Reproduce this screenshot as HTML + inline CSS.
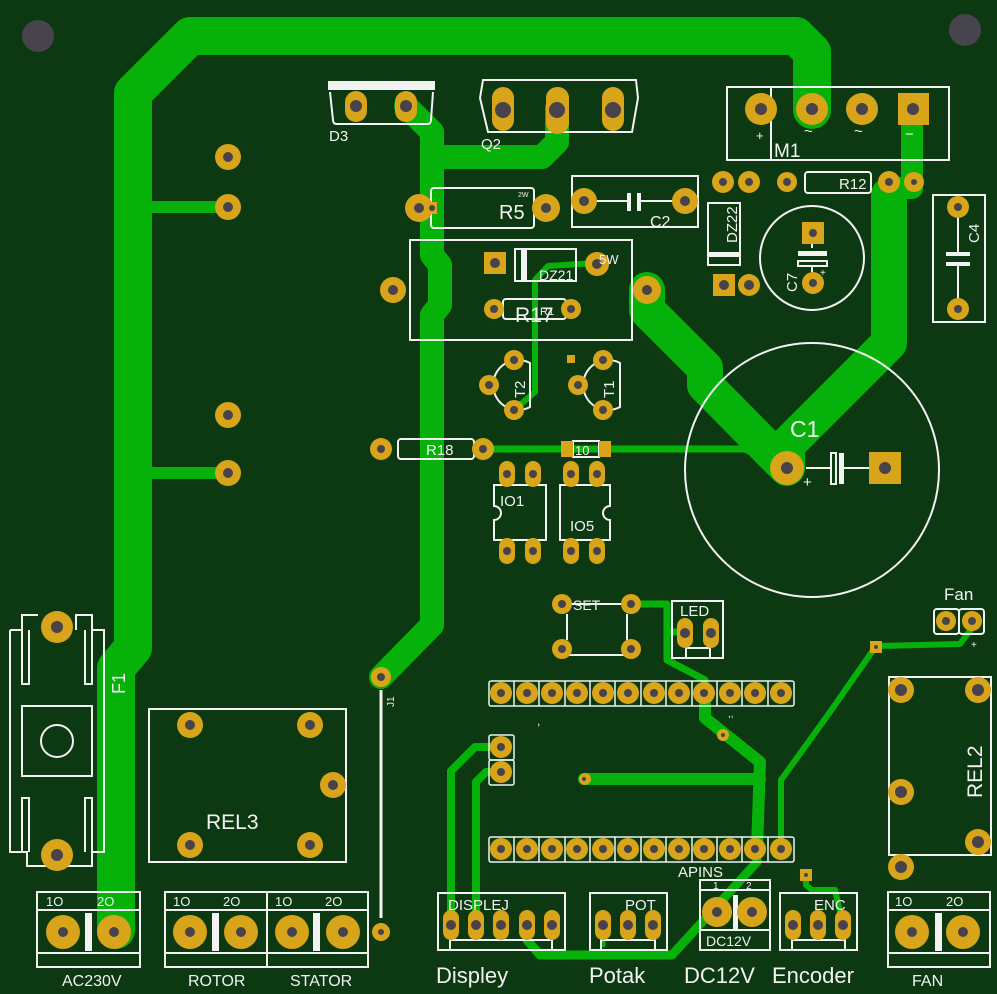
<!DOCTYPE html>
<html><head><meta charset="utf-8"><style>
html,body{margin:0;padding:0;background:#0c3911;}
svg{display:block}
text{font-family:"Liberation Sans",sans-serif;fill:#f2f2f2}
</style></head><body>
<svg width="997" height="994" viewBox="0 0 997 994" xmlns="http://www.w3.org/2000/svg">
<rect width="997" height="994" fill="#0c3911"/>
<!-- mounting holes -->
<circle cx="38" cy="36" r="16" fill="#48444d"/>
<circle cx="965" cy="30" r="16" fill="#48444d"/>

<!-- TRACES -->
<g fill="none" stroke="#06b20a" stroke-linejoin="round" stroke-linecap="round">
 <path d="M812 110 L812 52 L796 36 L190 36 L133 93 L133 648 L116 668 L116 930" stroke-width="38"/>
 <path d="M133 207 L228 207 M133 473 L228 473" stroke-width="12" stroke-linecap="butt"/>
 <path d="M406 106 L432 132 L432 255 L440 265 L440 305 L432 315 L432 625 L381 677" stroke-width="24"/>
 <path d="M432 157 L542 157 L557 142 L557 108" stroke-width="24"/>
 <path d="M647 290 L647 310 L705 368 L705 385 L787 468 L787 445 L889 343 L889 195" stroke-width="36"/>
 <path d="M912 110 L912 188 L890 188" stroke-width="22"/>
 <path d="M483 449 L745 449 L787 468" stroke-width="7"/>
 <path d="M596 263 L548 266 L535 280 L535 392 L514 410" stroke-width="6"/>
 <path d="M631 604 L667 604 L667 660 L705 680 L705 693" stroke-width="7"/>
 <path d="M685 632 L667 632" stroke-width="7"/>
 <path d="M705 693 L705 718 L760 762 L757 849" stroke-width="12"/>
 <path d="M584 779 L760 779" stroke-width="12"/>
 <path d="M757 849 L757 862 L672 955 L540 955 L527 940 L527 925" stroke-width="9"/>
 <path d="M972 628 L960 644 L876 646 L830 712 L781 780 L781 849" stroke-width="6"/>
 <path d="M501 747 L475 747 L451 771 L451 925" stroke-width="8"/>
 <path d="M501 772 L486 772 L476 782 L476 925" stroke-width="8"/>
 <path d="M806 875 L806 885 L812 890 L835 890 L843 925" stroke-width="6"/>
 <path d="M603 925 L603 945" stroke-width="5"/>
</g>

<!-- SILKSCREEN -->
<g fill="none" stroke="#f2f2f2" stroke-width="2">
 <!-- D3 -->
 <path d="M330 92 L333 120 Q333 124 337 124 L427 124 Q431 124 431 120 L433 92"/>
 <!-- Q2 -->
 <path d="M483 80 L636 80 L638 98 L632 132 L488 132 L480 98 Z"/>
 <!-- R5 -->
 <rect x="431" y="188" width="103" height="40" rx="3"/>
 <!-- C2 -->
 <rect x="572" y="176" width="126" height="51"/>
 <path d="M594 201 L628 201 M641 201 L675 201"/>
 <!-- R17 big -->
 <rect x="410" y="240" width="222" height="100"/>
 <rect x="515" y="249" width="61" height="32"/>
 <rect x="503" y="299" width="63" height="20" rx="3"/>
 <!-- T2 T1 -->
 <path d="M530 363 A25 25 0 1 0 530 407 Z"/>
 <path d="M620 363 A25 25 0 1 0 620 407 Z"/>
 <!-- R18 -->
 <rect x="398" y="439" width="76" height="20" rx="3"/>
 <rect x="573" y="441" width="26" height="16"/>
 <!-- IO1 IO5 -->
 <path d="M494 485 L546 485 L546 540 L494 540 L494 520 A6 6 0 0 0 494 506 Z"/>
 <path d="M560 485 L610 485 L610 506 A6 6 0 0 0 610 520 L610 540 L560 540 Z"/>
 <!-- C1 -->
 <circle cx="812" cy="470" r="127"/>
 <path d="M806 468 L830 468 M843 468 L870 468"/>
 <rect x="831" y="453" width="5" height="31"/>
 <!-- M1 -->
 <rect x="727" y="87" width="222" height="73"/>
 <path d="M771 87 L771 160"/>
 <!-- R12 -->
 <rect x="805" y="172" width="66" height="21" rx="3"/>
 <!-- DZ22 -->
 <rect x="708" y="203" width="32" height="62"/>
 <!-- C7 -->
 <circle cx="812" cy="258" r="52"/>
 <rect x="798" y="261" width="29" height="5"/>
 <path d="M812 244 L812 248 M812 267 L812 272"/>
 <!-- C4 -->
 <rect x="933" y="195" width="52" height="127"/>
 <path d="M958 217 L958 252 M958 262 L958 299"/>
 <!-- Fan -->
 <rect x="934" y="609" width="25" height="25" rx="3"/>
 <rect x="959" y="609" width="25" height="25" rx="3"/>
 <!-- REL2 -->
 <rect x="889" y="677" width="102" height="178"/>
 <!-- SET -->
 <path d="M566 604 L626 604 M566 655 L626 655 M567 614 L567 640 M627 614 L627 640"/>
 <!-- LED -->
 <rect x="672" y="601" width="51" height="57"/>
 <path d="M686 658 L686 648 L710 648 L710 658"/>
 <!-- J1 -->
 <path d="M381 690 L381 918" stroke-width="3"/>
 <!-- DISPLEJ etc -->
 <rect x="438" y="893" width="127" height="57"/>
 <path d="M450 950 L450 940 L552 940 L552 950"/>
 <rect x="590" y="893" width="77" height="57"/>
 <path d="M601 950 L601 940 L655 940 L655 950"/>
 <rect x="700" y="880" width="70" height="70"/>
 <path d="M700 890 L770 890 M700 930 L770 930"/>
 <rect x="780" y="893" width="77" height="57"/>
 <path d="M792 950 L792 940 L845 940 L845 950"/>
 <!-- terminal blocks -->
 <rect x="37" y="892" width="103" height="75"/><path d="M37 910 L140 910 M37 953 L140 953"/>
 <rect x="165" y="892" width="102" height="75"/><path d="M165 910 L267 910 M165 953 L267 953"/>
 <rect x="267" y="892" width="101" height="75"/><path d="M267 910 L368 910 M267 953 L368 953"/>
 <rect x="888" y="892" width="102" height="75"/><path d="M888 910 L990 910 M888 953 L990 953"/>
 <!-- F1 -->
 <path d="M10 630 L10 852 L27 852 L27 866 L92 866 L92 852 L104 852 L104 630 L92 630 L92 615 L76 615 L76 630"/>
 <path d="M10 630 L22 630 L22 615 L38 615"/>
 <path d="M22 630 L22 684 L29 684 L29 630 M92 630 L92 684 L85 684 L85 630"/>
 <path d="M22 852 L22 798 L29 798 L29 852 M92 852 L92 798 L85 798 L85 852"/>
 <rect x="22" y="706" width="70" height="70"/>
 <circle cx="57" cy="741" r="16"/>
 <!-- REL3 -->
 <rect x="149" y="709" width="197" height="153"/>
</g>
<!-- header outlines -->
<g fill="none" stroke="#f2f2f2" stroke-width="1.5">
 <rect x="489" y="681" width="305" height="25" rx="2"/>
 <rect x="489" y="837" width="305" height="25" rx="2"/>
 <path d="M514 681V706M539 681V706M565 681V706M590 681V706M615 681V706M641 681V706M666 681V706M692 681V706M717 681V706M742 681V706M768 681V706"/>
 <path d="M514 837V862M539 837V862M565 837V862M590 837V862M615 837V862M641 837V862M666 837V862M692 837V862M717 837V862M742 837V862M768 837V862"/>
 <rect x="489" y="735" width="25" height="25" rx="2"/>
 <rect x="489" y="760" width="25" height="25" rx="2"/>
</g>
<!-- solid silk bars -->
<g fill="#f2f2f2">
 <rect x="328" y="81" width="107" height="9"/>
 <rect x="521" y="250" width="6" height="30"/>
 <rect x="709" y="252" width="30" height="5"/>
 <rect x="839" y="453" width="5" height="31"/>
 <rect x="798" y="251" width="29" height="5"/>
 <rect x="946" y="252" width="24" height="4"/>
 <rect x="946" y="262" width="24" height="4"/>
 <rect x="627" y="193" width="4" height="18"/>
 <rect x="637" y="193" width="4" height="18"/>
 <rect x="85" y="913" width="7" height="38"/>
 <rect x="212" y="913" width="7" height="38"/>
 <rect x="313" y="913" width="7" height="38"/>
 <rect x="935" y="913" width="7" height="38"/>
 <rect x="733" y="895" width="5" height="34"/>
</g>

<!-- PADS -->
<g fill="#d8a41a">
 <!-- left -->
 <circle cx="228" cy="157" r="13"/><circle cx="228" cy="207" r="13"/>
 <circle cx="228" cy="415" r="13"/><circle cx="228" cy="473" r="13"/>
 <!-- D3 -->
 <rect x="345" y="91" width="22" height="31" rx="11"/><rect x="395" y="91" width="22" height="31" rx="11"/>
 <!-- Q2 -->
 <rect x="492" y="87" width="22" height="44" rx="11"/><rect x="546" y="87" width="23" height="47" rx="11"/><rect x="602" y="87" width="22" height="44" rx="11"/>
 <!-- R5 -->
 <circle cx="419" cy="208" r="14"/><rect x="427" y="202" width="10" height="12"/><circle cx="546" cy="208" r="14"/>
 <!-- C2 -->
 <circle cx="584" cy="201" r="13"/><circle cx="685" cy="201" r="13"/>
 <!-- R17 area -->
 <circle cx="393" cy="290" r="13"/><circle cx="647" cy="290" r="14"/>
 <rect x="484" y="252" width="22" height="22"/><circle cx="597" cy="264" r="12"/>
 <circle cx="494" cy="309" r="10"/><circle cx="571" cy="309" r="10"/>
 <!-- T2 T1 -->
 <circle cx="514" cy="360" r="10"/><circle cx="489" cy="385" r="10"/><circle cx="514" cy="410" r="10"/>
 <circle cx="603" cy="360" r="10"/><circle cx="578" cy="385" r="10"/><circle cx="603" cy="410" r="10"/>
 <rect x="567" y="355" width="8" height="8"/>
 <!-- R18 -->
 <circle cx="381" cy="449" r="11"/><circle cx="483" cy="449" r="11"/>
 <rect x="561" y="441" width="12" height="16"/><rect x="599" y="441" width="12" height="16"/>
 <!-- IO1 IO5 -->
 <rect x="499" y="461" width="16" height="26" rx="8"/><rect x="525" y="461" width="16" height="26" rx="8"/>
 <rect x="499" y="538" width="16" height="26" rx="8"/><rect x="525" y="538" width="16" height="26" rx="8"/>
 <rect x="563" y="461" width="16" height="26" rx="8"/><rect x="589" y="461" width="16" height="26" rx="8"/>
 <rect x="563" y="538" width="16" height="26" rx="8"/><rect x="589" y="538" width="16" height="26" rx="8"/>
 <!-- C1 -->
 <circle cx="787" cy="468" r="17"/><rect x="869" y="452" width="32" height="32"/>
 <!-- M1 -->
 <circle cx="761" cy="109" r="16"/><circle cx="812" cy="109" r="16"/><circle cx="862" cy="109" r="16"/>
 <rect x="898" y="93" width="31" height="32"/>
 <!-- R12 row -->
 <circle cx="723" cy="182" r="11"/><circle cx="749" cy="182" r="11"/><circle cx="787" cy="182" r="10"/>
 <circle cx="889" cy="182" r="11"/><circle cx="914" cy="182" r="10"/>
 <!-- DZ22 -->
 <rect x="713" y="274" width="22" height="22"/><circle cx="749" cy="285" r="11"/>
 <!-- C7 -->
 <rect x="802" y="222" width="22" height="22"/><circle cx="813" cy="283" r="11"/>
 <!-- C4 -->
 <circle cx="958" cy="207" r="11"/><circle cx="958" cy="309" r="11"/>
 <!-- Fan -->
 <circle cx="946" cy="621" r="10"/><circle cx="972" cy="621" r="10"/>
 <rect x="870" y="641" width="12" height="12"/>
 <!-- REL2 -->
 <circle cx="901" cy="690" r="13"/><circle cx="978" cy="690" r="13"/><circle cx="901" cy="792" r="13"/><circle cx="978" cy="842" r="13"/><circle cx="901" cy="867" r="13"/>
 <!-- SET LED -->
 <circle cx="562" cy="604" r="10"/><circle cx="631" cy="604" r="10"/><circle cx="562" cy="649" r="10"/><circle cx="631" cy="649" r="10"/>
 <rect x="677" y="618" width="16" height="30" rx="8"/><rect x="703" y="618" width="16" height="30" rx="8"/>
 <!-- headers -->
 <circle cx="501" cy="693" r="11"/><circle cx="527" cy="693" r="11"/><circle cx="552" cy="693" r="11"/><circle cx="577" cy="693" r="11"/><circle cx="603" cy="693" r="11"/><circle cx="628" cy="693" r="11"/><circle cx="654" cy="693" r="11"/><circle cx="679" cy="693" r="11"/><circle cx="704" cy="693" r="11"/><circle cx="730" cy="693" r="11"/><circle cx="755" cy="693" r="11"/><circle cx="781" cy="693" r="11"/>
 <circle cx="501" cy="849" r="11"/><circle cx="527" cy="849" r="11"/><circle cx="552" cy="849" r="11"/><circle cx="577" cy="849" r="11"/><circle cx="603" cy="849" r="11"/><circle cx="628" cy="849" r="11"/><circle cx="654" cy="849" r="11"/><circle cx="679" cy="849" r="11"/><circle cx="704" cy="849" r="11"/><circle cx="730" cy="849" r="11"/><circle cx="755" cy="849" r="11"/><circle cx="781" cy="849" r="11"/>
 <circle cx="501" cy="747" r="11"/><circle cx="501" cy="772" r="11"/>
 <circle cx="723" cy="735" r="6"/><circle cx="585" cy="779" r="6"/><rect x="800" y="869" width="12" height="12"/>
 <!-- bottom connectors -->
 <rect x="443" y="910" width="16" height="30" rx="8"/><rect x="468" y="910" width="16" height="30" rx="8"/><rect x="493" y="910" width="16" height="30" rx="8"/><rect x="519" y="910" width="16" height="30" rx="8"/><rect x="544" y="910" width="16" height="30" rx="8"/>
 <rect x="595" y="910" width="16" height="30" rx="8"/><rect x="620" y="910" width="16" height="30" rx="8"/><rect x="645" y="910" width="16" height="30" rx="8"/>
 <circle cx="717" cy="912" r="15"/><circle cx="752" cy="912" r="15"/>
 <rect x="785" y="910" width="16" height="30" rx="8"/><rect x="810" y="910" width="16" height="30" rx="8"/><rect x="835" y="910" width="16" height="30" rx="8"/>
 <!-- terminals -->
 <circle cx="63" cy="932" r="17"/><circle cx="114" cy="932" r="17"/>
 <circle cx="190" cy="932" r="17"/><circle cx="241" cy="932" r="17"/>
 <circle cx="292" cy="932" r="17"/><circle cx="343" cy="932" r="17"/>
 <circle cx="912" cy="932" r="17"/><circle cx="963" cy="932" r="17"/>
 <!-- F1 REL3 J1 -->
 <circle cx="57" cy="627" r="16"/><circle cx="57" cy="855" r="16"/>
 <circle cx="190" cy="725" r="13"/><circle cx="310" cy="725" r="13"/><circle cx="333" cy="785" r="13"/><circle cx="190" cy="845" r="13"/><circle cx="310" cy="845" r="13"/>
 <circle cx="381" cy="677" r="10"/><circle cx="381" cy="932" r="9"/>
</g>
<!-- HOLES -->
<g fill="#48434b">
 <circle cx="228" cy="157" r="5"/><circle cx="228" cy="207" r="5"/><circle cx="228" cy="415" r="5"/><circle cx="228" cy="473" r="5"/>
 <circle cx="356" cy="106" r="6"/><circle cx="406" cy="106" r="6"/>
 <circle cx="503" cy="110" r="8"/><circle cx="557" cy="110" r="8"/><circle cx="613" cy="110" r="8"/>
 <circle cx="419" cy="208" r="5"/><circle cx="432" cy="208" r="3"/><circle cx="546" cy="208" r="5"/>
 <circle cx="584" cy="201" r="5"/><circle cx="685" cy="201" r="5"/>
 <circle cx="393" cy="290" r="5"/><circle cx="647" cy="290" r="5"/><circle cx="495" cy="263" r="5"/><circle cx="597" cy="264" r="5"/>
 <circle cx="494" cy="309" r="4"/><circle cx="571" cy="309" r="4"/>
 <circle cx="514" cy="360" r="4"/><circle cx="489" cy="385" r="4"/><circle cx="514" cy="410" r="4"/>
 <circle cx="603" cy="360" r="4"/><circle cx="578" cy="385" r="4"/><circle cx="603" cy="410" r="4"/>
 <circle cx="381" cy="449" r="4"/><circle cx="483" cy="449" r="4"/>
 <circle cx="507" cy="474" r="4"/><circle cx="533" cy="474" r="4"/><circle cx="507" cy="551" r="4"/><circle cx="533" cy="551" r="4"/>
 <circle cx="571" cy="474" r="4"/><circle cx="597" cy="474" r="4"/><circle cx="571" cy="551" r="4"/><circle cx="597" cy="551" r="4"/>
 <circle cx="787" cy="468" r="6"/><circle cx="885" cy="468" r="6"/>
 <circle cx="761" cy="109" r="6"/><circle cx="812" cy="109" r="6"/><circle cx="862" cy="109" r="6"/><circle cx="913" cy="109" r="6"/>
 <circle cx="723" cy="182" r="4"/><circle cx="749" cy="182" r="4"/><circle cx="787" cy="182" r="4"/><circle cx="889" cy="182" r="4"/><circle cx="914" cy="182" r="3"/>
 <circle cx="724" cy="285" r="5"/><circle cx="749" cy="285" r="5"/><circle cx="813" cy="233" r="4"/><circle cx="813" cy="283" r="4"/>
 <circle cx="958" cy="207" r="4"/><circle cx="958" cy="309" r="4"/>
 <circle cx="946" cy="621" r="4"/><circle cx="972" cy="621" r="4"/><circle cx="876" cy="647" r="2"/>
 <circle cx="901" cy="690" r="6"/><circle cx="978" cy="690" r="6"/><circle cx="901" cy="792" r="6"/><circle cx="978" cy="842" r="6"/><circle cx="901" cy="867" r="6"/>
 <circle cx="562" cy="604" r="4"/><circle cx="631" cy="604" r="4"/><circle cx="562" cy="649" r="4"/><circle cx="631" cy="649" r="4"/>
 <circle cx="685" cy="633" r="5"/><circle cx="711" cy="633" r="5"/>
 <circle cx="501" cy="693" r="4"/><circle cx="527" cy="693" r="4"/><circle cx="552" cy="693" r="4"/><circle cx="577" cy="693" r="4"/><circle cx="603" cy="693" r="4"/><circle cx="628" cy="693" r="4"/><circle cx="654" cy="693" r="4"/><circle cx="679" cy="693" r="4"/><circle cx="704" cy="693" r="4"/><circle cx="730" cy="693" r="4"/><circle cx="755" cy="693" r="4"/><circle cx="781" cy="693" r="4"/>
 <circle cx="501" cy="849" r="4"/><circle cx="527" cy="849" r="4"/><circle cx="552" cy="849" r="4"/><circle cx="577" cy="849" r="4"/><circle cx="603" cy="849" r="4"/><circle cx="628" cy="849" r="4"/><circle cx="654" cy="849" r="4"/><circle cx="679" cy="849" r="4"/><circle cx="704" cy="849" r="4"/><circle cx="730" cy="849" r="4"/><circle cx="755" cy="849" r="4"/><circle cx="781" cy="849" r="4"/>
 <circle cx="501" cy="747" r="4"/><circle cx="501" cy="772" r="4"/><circle cx="723" cy="735" r="2"/><circle cx="584" cy="779" r="2"/><circle cx="806" cy="875" r="2"/>
 <circle cx="451" cy="925" r="5"/><circle cx="476" cy="925" r="5"/><circle cx="501" cy="925" r="5"/><circle cx="527" cy="925" r="5"/><circle cx="552" cy="925" r="5"/>
 <circle cx="603" cy="925" r="5"/><circle cx="628" cy="925" r="5"/><circle cx="653" cy="925" r="5"/>
 <circle cx="717" cy="912" r="5"/><circle cx="752" cy="912" r="5"/>
 <circle cx="793" cy="925" r="5"/><circle cx="818" cy="925" r="5"/><circle cx="843" cy="925" r="5"/>
 <circle cx="63" cy="932" r="5"/><circle cx="114" cy="932" r="5"/><circle cx="190" cy="932" r="5"/><circle cx="241" cy="932" r="5"/>
 <circle cx="292" cy="932" r="5"/><circle cx="343" cy="932" r="5"/><circle cx="912" cy="932" r="5"/><circle cx="963" cy="932" r="5"/>
 <circle cx="57" cy="627" r="6"/><circle cx="57" cy="855" r="6"/>
 <circle cx="190" cy="725" r="5"/><circle cx="310" cy="725" r="5"/><circle cx="333" cy="785" r="5"/><circle cx="190" cy="845" r="5"/><circle cx="310" cy="845" r="5"/>
 <circle cx="381" cy="677" r="4"/><circle cx="381" cy="932" r="3"/>
</g>

<!-- LABELS -->
<text x="329" y="141" font-size="15">D3</text>
<text x="481" y="149" font-size="15">Q2</text>
<text x="499" y="219" font-size="20">R5</text>
<text x="518" y="197" font-size="7">2W</text>
<text x="650" y="227" font-size="16">C2</text>
<text x="539" y="280" font-size="14">DZ21</text>
<text x="599" y="264" font-size="13">5W</text>
<text x="515" y="322" font-size="21">R17</text>
<text x="540" y="315" font-size="11">R1</text>
<text transform="translate(525,398) rotate(-90)" font-size="15">T2</text>
<text transform="translate(614,398) rotate(-90)" font-size="15">T1</text>
<text x="426" y="455" font-size="15">R18</text>
<text x="575" y="455" font-size="13">10</text>
<text x="500" y="506" font-size="15">IO1</text>
<text x="570" y="531" font-size="15">IO5</text>
<text x="790" y="437" font-size="23">C1</text>
<text x="803" y="487" font-size="15">+</text>
<text x="756" y="140" font-size="13">+</text>
<text x="804" y="136" font-size="15">~</text>
<text x="854" y="136" font-size="15">~</text>
<text x="905" y="139" font-size="15">−</text>
<text x="774" y="157" font-size="19">M1</text>
<text x="839" y="189" font-size="15">R12</text>
<text transform="translate(737,243) rotate(-90)" font-size="15">DZ22</text>
<text transform="translate(797,292) rotate(-90)" font-size="15">C7</text>
<text x="820" y="276" font-size="10">+</text>
<text transform="translate(979,243) rotate(-90)" font-size="15">C4</text>
<text x="944" y="600" font-size="17">Fan</text>
<text x="971" y="648" font-size="10">+</text>
<text transform="translate(982,798) rotate(-90)" font-size="21">REL2</text>
<text x="573" y="610" font-size="14">SET</text>
<text x="680" y="616" font-size="15">LED</text>
<text x="678" y="877" font-size="15">APINS</text>
<text x="537" y="725" font-size="12">,</text>
<text x="728" y="717" font-size="10">,,</text>
<text x="448" y="910" font-size="15">DISPLEJ</text>
<text x="625" y="910" font-size="15">POT</text>
<text x="814" y="910" font-size="15">ENC</text>
<text x="713" y="889" font-size="10">1</text><text x="746" y="889" font-size="10">2</text>
<text x="706" y="946" font-size="14">DC12V</text>
<text x="436" y="983" font-size="22">Displey</text>
<text x="589" y="983" font-size="22">Potak</text>
<text x="684" y="983" font-size="22">DC12V</text>
<text x="772" y="983" font-size="22">Encoder</text>
<text x="46" y="906" font-size="13">1O</text><text x="97" y="906" font-size="13">2O</text>
<text x="173" y="906" font-size="13">1O</text><text x="223" y="906" font-size="13">2O</text>
<text x="275" y="906" font-size="13">1O</text><text x="325" y="906" font-size="13">2O</text>
<text x="895" y="906" font-size="13">1O</text><text x="946" y="906" font-size="13">2O</text>
<text x="62" y="986" font-size="16">AC230V</text>
<text x="188" y="986" font-size="16">ROTOR</text>
<text x="290" y="986" font-size="16">STATOR</text>
<text x="912" y="986" font-size="16">FAN</text>
<text transform="translate(125,694) rotate(-90)" font-size="18">F1</text>
<text x="206" y="829" font-size="21">REL3</text>
<text transform="translate(394,707) rotate(-90)" font-size="10">J1</text>
</svg>
</body></html>
